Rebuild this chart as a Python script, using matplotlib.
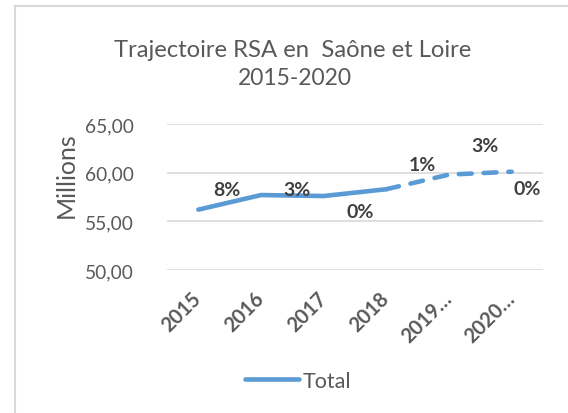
import matplotlib
matplotlib.use('Agg')
import numpy as np
from matplotlib import pyplot as plt
from matplotlib.lines import Line2D

# data
years = ['2015', '2016', '2017', '2018', '2019…', '2020…']
total = [56.2, 57.7, 57.6, 58.3, 59.8, 60.1]   # millions
pct_labels = ['8%', '3%', '0%', '1%', '3%', '0%']
yticks = [50, 55, 60, 65]

# where the data labels sit (category index, value)
label_x = [0.46, 1.58, 2.585, 3.57, 4.58, 5.25]
label_y = [58.25, 58.32, 55.96, 60.89, 62.74, 58.42]

blue = '#5B9BD5'
grey = '#595959'
dark = '#404040'
grid = '#D9D9D9'

plt.rcParams['font.family'] = ['Lato', 'DejaVu Sans']

fig = plt.figure(figsize=(5.68, 4.14), dpi=100)
ax = fig.add_axes([167/568, 1 - 271/414, (543 - 167)/568, (271 - 125)/414])

x = np.arange(len(years))
lw = 3.3
ax.plot(x[:4], total[:4], color=blue, lw=lw, solid_capstyle='round',
        solid_joinstyle='round', zorder=3)
ax.plot(x[3:], total[3:], color=blue, lw=lw, dashes=(2.8, 2.6),
        dash_capstyle='round', dash_joinstyle='round', zorder=3)

for lx, ly, t in zip(label_x, label_y, pct_labels):
    ax.text(lx, ly, t, ha='center', va='center', fontsize=14,
            fontweight='bold', color=dark)

ax.set_xlim(-0.5, len(years) - 0.5)
ax.set_ylim(50, 65)
ax.set_yticks(yticks)
ax.set_yticklabels(['{:.2f}'.format(v).replace('.', ',') for v in yticks],
                   fontsize=13.8, color=grey)
ax.set_xticks(x)
ax.set_xticklabels(years, rotation=45, ha='right', va='center',
                   rotation_mode='anchor', fontsize=14.5, fontweight='bold',
                   color=grey)
ax.tick_params(axis='x', length=0, pad=18)
ax.tick_params(axis='y', length=0, pad=24)
ax.grid(True, axis='y', color=grid, lw=1.2)
ax.set_axisbelow(True)
for s in ax.spines.values():
    s.set_visible(False)

fig.text(66/568, 1 - 175/414, 'Millions', rotation=90, ha='center',
         va='center', fontsize=18, color=grey)

fig.text(293/568, 1 - 57/414, 'Trajectoire RSA en  Saône et Loire',
         ha='center', va='baseline', fontsize=17.2, color=grey)
fig.text(295/568, 1 - 85/414, '2015-2020',
         ha='center', va='baseline', fontsize=16.5, color=grey)

# legend
handle = Line2D([], [], color=blue, lw=lw, solid_capstyle='round')
fig.legend([handle], ['Total'], loc='center', bbox_to_anchor=(298/568, 1 - 382/414),
           frameon=False, fontsize=15.5, labelcolor=grey, handlelength=2.5,
           handletextpad=0.2)

# chart frame
fig.add_artist(Line2D([14.5/568, 14.5/568], [0, 1 - 6.5/414], color=grid, lw=1.5,
                      transform=fig.transFigure))
fig.add_artist(Line2D([14.5/568, 1], [1 - 6.5/414, 1 - 6.5/414], color=grid, lw=1.5,
                      transform=fig.transFigure))

fig.savefig('out.png', dpi=100)
